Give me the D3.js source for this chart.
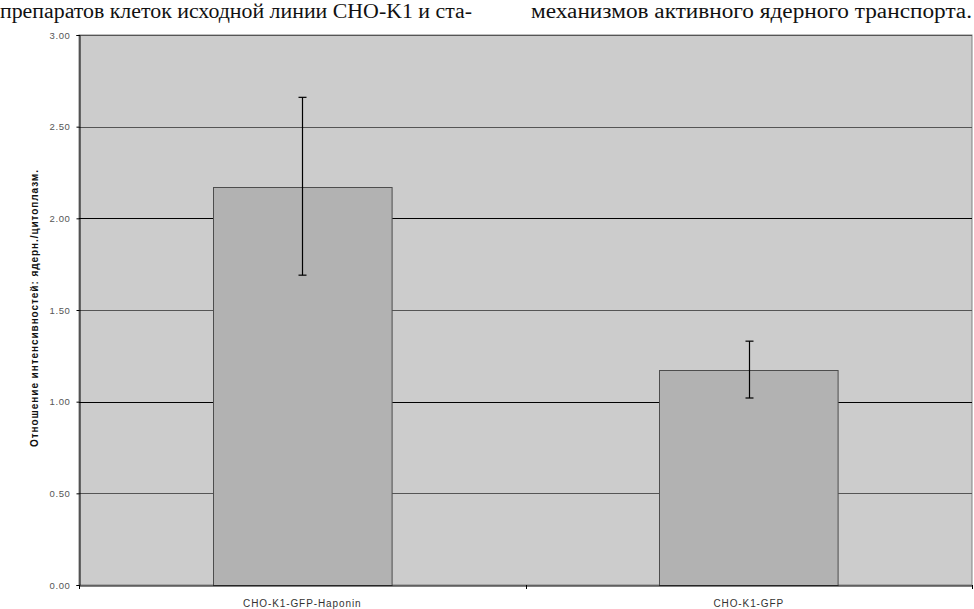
<!DOCTYPE html>
<html><head><meta charset="utf-8">
<script src="https://cdn.jsdelivr.net/npm/d3@7"></script>
<style>body{margin:0;background:#fff}svg{display:block}</style>
</head><body>
<svg id="c" width="974" height="609"></svg>
<script>
const categories = ["CHO-K1-GFP-Haponin", "CHO-K1-GFP"];
const values = [2.17, 1.173];
const errLow = [1.69, 1.02];
const errHigh = [2.66, 1.33];
const yTicks = [0, 0.5, 1.0, 1.5, 2.0, 2.5, 3.0];
const headerLeft = "препаратов клеток исходной линии CHO-K1 и ста-";
const headerRight = "механизмов активного ядерного транспорта.";
const yTitle = "Отношение интенсивностей: ядерн./цитоплазм.";

const svg = d3.select("#c");
const L = 79, R = 972, T = 35, B = 585;
const x = d3.scaleBand().domain(categories).range([L, R]).paddingInner(0.6).paddingOuter(0.3);
const y = d3.scaleLinear().domain([0, 3]).range([B, T]);

// header text
svg.append("text").attr("x", 0).attr("y", 18).attr("font-family", "Liberation Serif, DejaVu Serif, serif")
  .attr("font-size", 20).attr("fill", "#111").attr("textLength", 472).attr("lengthAdjust", "spacingAndGlyphs").text(headerLeft);
svg.append("text").attr("x", 531).attr("y", 18).attr("font-family", "Liberation Serif, DejaVu Serif, serif")
  .attr("font-size", 20).attr("fill", "#111").attr("textLength", 441).attr("lengthAdjust", "spacingAndGlyphs").text(headerRight);

// plot background
svg.append("rect").attr("x", L).attr("y", T).attr("width", R - L).attr("height", B - T)
  .attr("fill", "#cccccc").attr("stroke", "#808080").attr("stroke-width", 1);

// gridlines
svg.append("g").selectAll("line").data(yTicks.filter(d => d > 0)).join("line")
  .attr("x1", L).attr("x2", R).attr("y1", d => Math.round(y(d)) + 0.5).attr("y2", d => Math.round(y(d)) + 0.5)
  .attr("stroke", d => (d === 1 || d === 2) ? "#000" : "#555").attr("stroke-width", 1);

// bars
svg.append("g").selectAll("rect").data(values).join("rect")
  .attr("x", (d, i) => Math.round(x(categories[i])) + 0.5)
  .attr("y", d => Math.round(y(d)) + 0.5)
  .attr("width", x.bandwidth())
  .attr("height", d => B - Math.round(y(d)))
  .attr("fill", "#b2b2b2").attr("stroke", "#4d4d4d").attr("stroke-width", 1);

// error bars
const eg = svg.append("g").attr("stroke", "#000").attr("stroke-width", 1.2);
values.forEach((v, i) => {
  const cx = Math.round(x(categories[i]) + x.bandwidth() / 2) + 0.5;
  eg.append("line").attr("x1", cx).attr("x2", cx).attr("y1", y(errHigh[i])).attr("y2", y(errLow[i]));
  eg.append("line").attr("x1", cx - 4).attr("x2", cx + 4).attr("y1", y(errHigh[i])).attr("y2", y(errHigh[i]));
  eg.append("line").attr("x1", cx - 4).attr("x2", cx + 4).attr("y1", y(errLow[i])).attr("y2", y(errLow[i]));
});

// y axis
const ya = svg.append("g").attr("transform", `translate(${L + 0.5},0)`)
  .call(d3.axisLeft(y).tickValues(yTicks).tickFormat(d3.format(".2f")).tickSize(3).tickPadding(6));
ya.select(".domain").attr("stroke", "#000");
ya.selectAll(".tick line").attr("stroke", "#000");
ya.selectAll("text").attr("font-family", "Liberation Sans, Arial, sans-serif").attr("font-size", 9.5)
  .attr("letter-spacing", "0.6px").attr("fill", "#555");

// x axis
const xa = svg.append("g").attr("transform", `translate(0,${B + 0.5})`)
  .call(d3.axisBottom(x).tickSize(0).tickPadding(14));
xa.select(".domain").attr("stroke", "#000");
xa.selectAll("text").attr("font-family", "Liberation Sans, Arial, sans-serif").attr("font-size", 10)
  .attr("letter-spacing", "0.9px").attr("fill", "#333");
// category boundary ticks
const bounds = [L, (x(categories[0]) + x.bandwidth() + x(categories[1])) / 2, R];
svg.append("g").selectAll("line").data(bounds).join("line")
  .attr("x1", d => Math.round(d) + 0.5).attr("x2", d => Math.round(d) + 0.5)
  .attr("y1", B).attr("y2", B + 4).attr("stroke", "#000");

// y title
svg.append("text").attr("transform", `translate(38,${(170 + 447) / 2}) rotate(-90)`)
  .attr("text-anchor", "middle").attr("font-family", "Liberation Sans, Arial, sans-serif")
  .attr("font-size", 10).attr("font-weight", "bold").attr("fill", "#111")
  .attr("textLength", 277).attr("lengthAdjust", "spacing").text(yTitle);
</script>
</body></html>
